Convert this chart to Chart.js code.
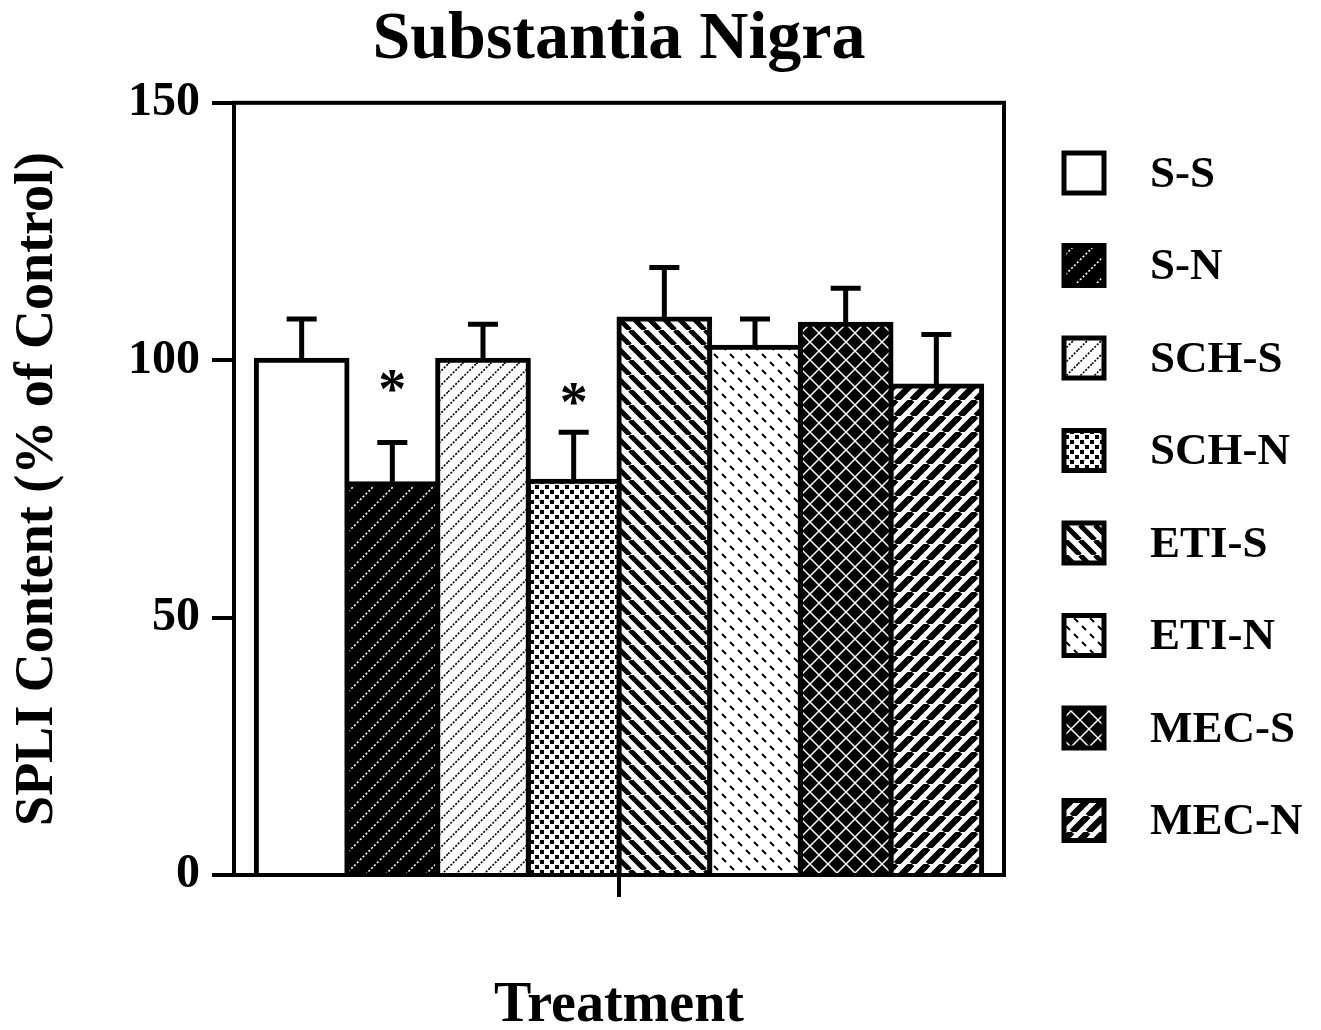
<!DOCTYPE html>
<html>
<head>
<meta charset="utf-8">
<script src="https://cdn.jsdelivr.net/npm/chart.js@4.4.1/dist/chart.umd.min.js"></script>
<style>
  body { margin: 0; background: #fff; }
  canvas { display: block; }
</style>
</head>
<body>
<canvas id="chart" width="1321" height="1030"></canvas>
<script>
const groups = ['S-S', 'S-N', 'SCH-S', 'SCH-N', 'ETI-S', 'ETI-N', 'MEC-S', 'MEC-N']
const means = [100, 76, 100, 76.5, 108, 102.5, 107, 95]
const sems = [8, 8, 7, 9.5, 10, 5.5, 7, 10]
// y value where the significance star sits (null = none)
const stars = [null, 95.5, null, 93, null, null, null, null]
const yTicks = [0, 50, 100, 150]

const serif = '"Liberation Serif", "Times New Roman", serif'

// fill patterns
function tile(size, bg, draw){
    const c = document.createElement('canvas')
    c.width = size
    c.height = size
    const g = c.getContext('2d')
    g.fillStyle = bg
    g.fillRect(0, 0, size, size)
    draw(g, size)
    return document.getElementById('chart').getContext('2d').createPattern(c, 'repeat')
}
function slash(g, s){ // "/" lines
    for (const k of [-s, 0, s]) {
        g.beginPath(); g.moveTo(k, s); g.lineTo(k + s, 0); g.stroke()
    }
}
function backslash(g, s){ // "\" lines
    for (const k of [-s, 0, s]) {
        g.beginPath(); g.moveTo(k, 0); g.lineTo(k + s, s); g.stroke()
    }
}

const fills = [
    '#ffffff',
    tile(20, '#000', (g, s) => { g.strokeStyle = '#fff'; g.lineWidth = 1.6; g.setLineDash([2, 2]); slash(g, s) }),
    tile(14, '#fff', (g, s) => { g.strokeStyle = '#000'; g.lineWidth = 1.6; g.setLineDash([2, 1.5]); slash(g, s) }),
    tile(10, '#fff', (g, s) => { g.fillStyle = '#000'; g.fillRect(0, 0, 4, 4); g.fillRect(5, 5, 4, 4) }),
    tile(15, '#fff', (g, s) => { g.strokeStyle = '#000'; g.lineWidth = 5; backslash(g, s) }),
    tile(16, '#fff', (g, s) => {
        g.strokeStyle = '#000'; g.lineWidth = 2
        g.beginPath(); g.moveTo(2, 10); g.lineTo(6, 14); g.stroke()
        g.beginPath(); g.moveTo(10, 2); g.lineTo(14, 6); g.stroke()
    }),
    tile(18, '#000', (g, s) => { g.strokeStyle = '#fff'; g.lineWidth = 1.5; slash(g, s); backslash(g, s) }),
    tile(16, '#fff', (g, s) => { g.strokeStyle = '#000'; g.lineWidth = 6.5; slash(g, s) })
]

const boxPlugin = {
    id: 'box',
    afterDraw(chart){
        const {ctx, chartArea: a} = chart
        ctx.save()
        ctx.strokeStyle = '#000'
        ctx.lineWidth = 4
        ctx.strokeRect(a.left, a.top, a.right - a.left, a.bottom - a.top)
        ctx.restore()
    }
}

const errorPlugin = {
    id: 'errors',
    afterDatasetsDraw(chart){
        const {ctx} = chart
        const y = chart.scales.y
        ctx.save()
        ctx.strokeStyle = '#000'
        ctx.fillStyle = '#000'
        ctx.lineWidth = 5
        groups.forEach((g, i) => {
            const bar = chart.getDatasetMeta(i).data[0]
            const yTop = y.getPixelForValue(means[i] + sems[i])
            ctx.beginPath()
            ctx.moveTo(bar.x, bar.y - 2)
            ctx.lineTo(bar.x, yTop)
            ctx.moveTo(bar.x - 15, yTop)
            ctx.lineTo(bar.x + 15, yTop)
            ctx.stroke()
            if (stars[i] !== null) {
                ctx.font = 'bold 56px ' + serif
                ctx.textAlign = 'center'
                ctx.textBaseline = 'middle'
                ctx.fillText('*', bar.x, y.getPixelForValue(stars[i]) + 10)
            }
        })
        ctx.restore()
    }
}

const legendPlugin = {
    id: 'sideLegend',
    afterDraw(chart){
        const {ctx} = chart
        ctx.save()
        groups.forEach((g, i) => {
            const cy = 173 + i * 92.5
            ctx.fillStyle = fills[i]
            ctx.fillRect(1064, cy - 20, 40, 40)
            ctx.strokeStyle = '#000'
            ctx.lineWidth = 5
            ctx.strokeRect(1064, cy - 20, 40, 40)
            ctx.fillStyle = '#000'
            ctx.font = 'bold 45px ' + serif
            ctx.textAlign = 'left'
            ctx.textBaseline = 'middle'
            ctx.fillText(g, 1150, cy + 2)
        })
        ctx.restore()
    }
}

new Chart(document.getElementById('chart'), {
    type: 'bar',
    data: {
        labels: [''],
        datasets: groups.map((g, i) => ({
            label: g,
            data: [means[i]],
            backgroundColor: fills[i],
            borderColor: '#000',
            borderWidth: 5,
            borderSkipped: 'bottom',
            inflateAmount: 2.5
        }))
    },
    options: {
        responsive: false,
        animation: false,
        events: [],
        categoryPercentage: 0.942,
        barPercentage: 1,
        layout: { padding: { left: 0, right: 317, top: 0, bottom: 0 } },
        plugins: {
            legend: { display: false },
            tooltip: { enabled: false },
            title: {
                display: true,
                text: 'Substantia Nigra',
                color: '#000',
                fullSize: false,
                font: { family: serif, size: 68, weight: 'bold', lineHeight: 1.1 },
                padding: { top: 3, bottom: 25 }
            }
        },
        scales: {
            x: {
                afterFit(s){ s.height = 155 },
                grid: { display: true, drawOnChartArea: false, offset: false, tickLength: 22, lineWidth: 4, color: '#000' },
                border: { display: true, color: '#000', width: 4 },
                ticks: { display: false },
                title: {
                    display: true,
                    text: 'Treatment',
                    color: '#000',
                    font: { family: serif, size: 56, weight: 'bold', lineHeight: 0.85 },
                    padding: { top: 0, bottom: 0 }
                }
            },
            y: {
                min: 0,
                max: 150,
                afterFit(s){ s.width = 234 },
                afterBuildTicks(s){ s.ticks = yTicks.map(v => ({value: v})) },
                grid: { drawOnChartArea: false, tickLength: 22, lineWidth: 4, color: '#000' },
                border: { display: true, color: '#000', width: 4 },
                ticks: {
                    color: '#000',
                    padding: 12,
                    font: { family: serif, size: 48, weight: 'bold' }
                },
                title: {
                    display: true,
                    text: 'SPLI Content (% of Control)',
                    color: '#000',
                    font: { family: serif, size: 54, weight: 'bold', lineHeight: 1.2 },
                    padding: { top: 6, bottom: 0 }
                }
            }
        }
    },
    plugins: [boxPlugin, errorPlugin, legendPlugin]
})
</script>
</body>
</html>
